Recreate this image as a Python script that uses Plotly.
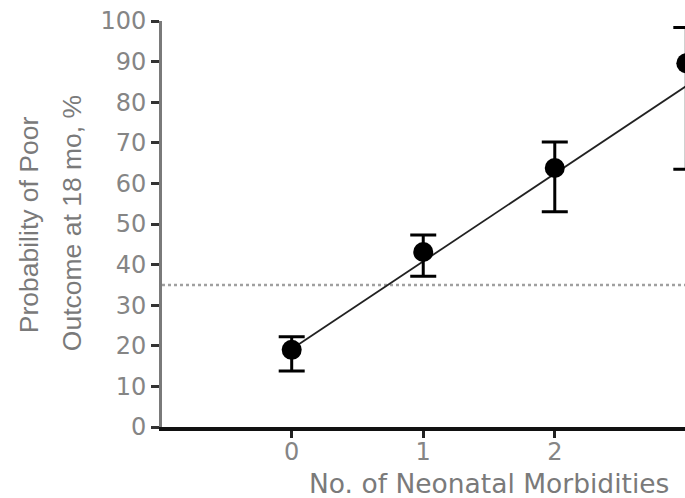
import plotly.graph_objects as go

# ---- data ----
morbidities = [0, 1, 2, 3]
prob_poor = [19.0, 43.1, 63.8, 89.6]
ci_upper = [22.2, 47.3, 70.2, 98.4]
ci_lower = [13.8, 37.1, 53.0, 63.5]
fit_x = [0, 3]
fit_y = [19.2, 84.0]
threshold = 35
x_ticks = [0, 1, 2, 3]
y_ticks = [0, 10, 20, 30, 40, 50, 60, 70, 80, 90, 100]

err_plus = [u - p for u, p in zip(ci_upper, prob_poor)]
err_minus = [p - l for p, l in zip(prob_poor, ci_lower)]

fig = go.Figure()

fig.add_trace(go.Scatter(
    x=fit_x, y=fit_y, mode="lines",
    line=dict(color="#222222", width=1.8),
    showlegend=False, hoverinfo="skip",
))

fig.add_trace(go.Scatter(
    x=morbidities, y=prob_poor, mode="markers",
    marker=dict(color="black", size=20, symbol="circle"),
    error_y=dict(type="data", symmetric=False, array=err_plus,
                 arrayminus=err_minus, color="black", thickness=3, width=13),
    showlegend=False,
))

fig.add_shape(type="line", xref="paper", x0=0, x1=1, yref="y",
              y0=threshold, y1=threshold, layer="below",
              line=dict(color="#a0a0a0", width=2.5, dash="dot"))

L, R, T, B = 162, 0, 21, 71.3
W, H = 685, 498
pw = W - L - R

tick_font = dict(family="DejaVu Sans", size=24, color="#858585")
title_font_y = dict(family="Liberation Sans, Arial", size=26.5, color="#7a7a7a")
title_font_x = dict(family="DejaVu Sans", size=26.5, color="#7a7a7a")

fig.update_layout(
    width=W, height=H,
    margin=dict(l=L, r=R, t=T, b=B, pad=0),
    paper_bgcolor="white", plot_bgcolor="white",
    xaxis=dict(range=[-0.986, 2.99], tickvals=x_ticks,
               ticktext=[str(v) for v in x_ticks],
               showline=True, linecolor="#111111", linewidth=3.5,
               ticks="outside", ticklen=7, tickwidth=2.5, tickcolor="#222222",
               ticklabelstandoff=-7,
               showgrid=False, zeroline=False, tickfont=tick_font),
    yaxis=dict(range=[0, 100], tickvals=y_ticks,
               ticktext=[str(v) for v in y_ticks],
               showline=True, linecolor="#7a7a7a", linewidth=3,
               ticks="outside", ticklen=8, tickwidth=2.5, tickcolor="#333333",
               showgrid=False, zeroline=False, tickfont=tick_font),
    annotations=[
        dict(text="No. of Neonatal Morbidities", xref="x", x=1.5,
             yref="paper", y=-(483 - (H - B)) / (H - T - B),
             xanchor="center", yanchor="middle", showarrow=False,
             font=title_font_x),
        dict(text="Probability of Poor", xref="paper", x=(29 - L) / pw,
             yref="paper", y=0.497, xanchor="center", yanchor="middle",
             textangle=-90, showarrow=False, font=title_font_y),
        dict(text="Outcome at 18 mo, %", xref="paper", x=(72 - L) / pw,
             yref="paper", y=0.502, xanchor="center", yanchor="middle",
             textangle=-90, showarrow=False, font=title_font_y),
    ],
)

fig.write_html(
    "out.html",
    config={"displayModeBar": False},
    post_script="document.body.style.margin='0';"
                "document.body.style.overflow='hidden';",
)
